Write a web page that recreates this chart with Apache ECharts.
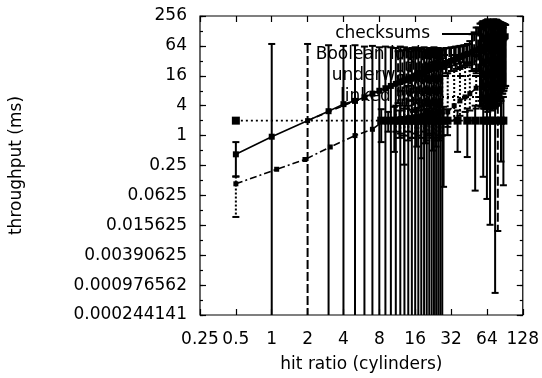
<!DOCTYPE html>
<html><head><meta charset="utf-8">
<script src="https://cdn.jsdelivr.net/npm/echarts@6/dist/echarts.min.js"></script>
<style>html,body{margin:0;padding:0;background:#fff}#c{width:542px;height:378px}</style>
</head><body><div id="c"></div>
<script>
// ---- tick labels ----
const xTickLabels = ['0.25','0.5','1','2','4','8','16','32','64','128'];
const yTickLabels = ['0.000244141','0.000976562','0.00390625','0.015625','0.0625','0.25','1','4','16','64','256'];
const seriesNames = ['checksums','Boolean logic','underwater','linked lists'];

// ---- checksums ----
const csX  = [0.5, 1, 3, 4, 5, 6, 7, 8, 9, 10, 11, 12, 13, 14, 15, 16, 17, 18, 19, 20, 21, 22, 23, 24, 25, 26, 27,
              29, 32, 35, 38, 41, 44, 48, 52, 56, 58, 60, 62, 64, 66, 68, 70, 72, 74, 76, 78, 80, 82, 84, 86, 88, 90, 92];
const csY  = [0.42, 0.95, 3.1, 4.3, 5, 5.9, 7, 8, 9, 10, 11, 12, 13, 14, 15, 16, 17, 18, 19, 20, 21, 22, 23, 24, 25, 26, 27,
              29, 32, 35, 38, 41, 44, 48, 52, 56, 58, 60, 62, 64, 66, 68, 70, 72, 74, 76, 78, 80, 82, 84, 86, 90, 95, 100];
const csHi = [0.74, 70, 66, 64, 66, 62, 64, 60, 62, 60, 58, 62, 60, 56, 58, 60, 56, 58, 60, 54, 58, 56, 60, 55, 58, 56, 54,
              58, 60, 62, 64, 66, 70, 110, 150, 180, 190, 200, 205, 210, 200, 190, 200, 205, 210, 215, 210, 200, 195, 190, 185, 180, 175, 170];
const csLo = [0.15, 1e-5, 1e-5, 1e-5, 1e-5, 1e-5, 1e-5, 1e-5, 1e-5, 1e-5, 1e-5, 1e-5, 1e-5, 1e-5, 1e-5, 1e-5, 1e-5, 1e-5, 1e-5, 1e-5, 1e-5, 1e-5, 1e-5, 1e-5, 1e-5, 1e-5, 1e-5,
              18, 20, 22, 24, 26, 28, 20, 18, 4, 3.8, 3.5, 3.6, 3.4, 3.8, 4, 3.5, 3.6, 3.8, 4, 4.2, 5, 5.5, 6, 7, 8, 9, 10];

// ---- Boolean logic ----
const blX  = [2, 11.5, 12.5, 13.5, 14.5, 15.5, 16.5, 17.5, 18.5, 19.5, 20.5, 21.5, 22.5, 23.5, 24.5, 25.5, 26.5,
              28, 31, 34, 37, 40, 43, 46, 50, 54, 57, 59, 61, 63, 65, 67, 69, 71, 73, 75, 77, 79, 81, 83, 85, 87, 89, 91];
const blY  = [2, 11.5, 12.5, 13.5, 14.5, 15.5, 16.5, 17.5, 18.5, 19.5, 20.5, 21.5, 22.5, 23.5, 24.5, 25.5, 26.5,
              28, 31, 34, 37, 40, 43, 46, 50, 54, 57, 59, 61, 63, 65, 67, 69, 71, 73, 75, 77, 79, 81, 83, 85, 88, 92, 96];
const blHi = [70, 50, 52, 54, 50, 56, 52, 55, 50, 54, 52, 50, 55, 52, 50, 54, 52,
              56, 58, 60, 62, 64, 66, 80, 120, 150, 180, 200, 190, 210, 220, 200, 190, 210, 220, 200, 215, 205, 195, 190, 185, 180, 175, 170];
const blLo = [1e-5, 4.5, 4, 3.5, 5, 3, 4.5, 3.2, 4, 2.8, 3.5, 3, 2.6, 3.4, 2.5, 3, 2.8,
              22, 24, 26, 28, 30, 28, 26, 22, 20, 5, 4, 3.5, 3.4, 3, 3.6, 4, 3.2, 3.5, 3.8, 4, 0.012, 4.5, 5, 6, 7, 8, 10];

// ---- underwater ----
const uwX  = [0.5, 1.1, 1.9, 3.1, 5, 7, 8.7, 11, 12, 13, 14, 15, 16, 17, 18, 19, 20, 21, 22, 23, 24, 25, 26, 27,
              30, 34, 38, 42, 46, 52, 58, 64, 70, 76, 82, 88];
const uwY  = [0.107, 0.21, 0.33, 0.59, 1.0, 1.34, 2.0, 2.1, 2.2, 2.2, 2.3, 2.3, 2.4, 2.4, 2.5, 2.5, 2.6, 2.6, 2.7, 2.8, 2.8, 2.9, 3, 3,
              3, 4, 5, 6, 7, 9, 12, 16, 20, 26, 32, 40];
const uwHi = [0.15, 0.21, 0.33, 0.59, 1.0, 1.34, 2.0, 4, 8, 12, 10, 16, 14, 20, 18, 24, 22, 26, 30, 28, 32, 30, 34, 36,
              18, 20, 22, 24, 30, 40, 60, 80, 100, 120, 140, 150];
const uwLo = [0.023, 0.21, 0.33, 0.59, 1.0, 1.34, 2.0, 1.2, 1.1, 1.0, 1.2, 0.9, 1.1, 1.0, 0.9, 1.2, 0.8, 1.0, 0.9, 1.1, 0.8, 1.0, 0.9, 1.0,
              1.5, 2, 2.5, 3, 3.2, 3.5, 4, 4.5, 5, 6, 8, 10];

// ---- linked lists ----
const llX  = [0.5, 8.3, 9.5, 10.7, 11.8, 12.9, 14, 15, 16.5, 18, 19.5, 21, 22.5, 24, 25.5, 27.7, 29.9, 36.3, 43.8, 51, 59.6, 64, 68, 75, 84, 88];
const llY  = [2, 2, 2, 2, 2, 2, 2, 2, 2, 2, 2, 2, 2, 2, 2, 2, 2, 2, 2, 2, 2, 2, 2, 2, 2, 2];
const llHi = [2, 3.4, 3, 3.8, 3.2, 3.5, 4, 3.3, 3.6, 3.8, 3.4, 3.2, 3.5, 4, 4.5, 3.8, 3.4, 3.2, 3.5, 4, 4.5, 4, 5, 4, 5, 6];
const llLo = [2, 0.74, 1.2, 0.47, 0.9, 0.26, 0.8, 0.9, 0.6, 0.35, 0.7, 1.1, 0.5, 0.6, 0.8, 0.093, 1.02, 0.47, 0.37, 0.078, 0.148, 0.053, 0.016, 0.00068, 0.3, 0.1];

const FONT = 'DejaVu Sans';
const FS = 17;
const LW = 1.6;
const BW = 2;

function zip2(a, b) { return a.map((v, i) => [v, b[i]]); }
function zip3(a, b, c) { return a.map((v, i) => [v, b[i], c[i]]); }

function barRender(dash) {
  return function (params, api) {
    const x = api.value(0), lo = api.value(1), hi = api.value(2);
    if (hi === lo) return null;
    const p1 = api.coord([x, hi]), p2 = api.coord([x, lo]);
    const w = 3.5;
    return {
      type: 'group',
      children: [
        { type: 'line', shape: { x1: p1[0], y1: p1[1], x2: p2[0], y2: p2[1] },
          style: { stroke: '#000', lineWidth: BW, lineDash: dash, fill: null } },
        { type: 'line', shape: { x1: p1[0] - w, y1: p1[1], x2: p1[0] + w, y2: p1[1] },
          style: { stroke: '#000', lineWidth: BW, fill: null } },
        { type: 'line', shape: { x1: p2[0] - w, y1: p2[1], x2: p2[0] + w, y2: p2[1] },
          style: { stroke: '#000', lineWidth: BW, fill: null } }
      ]
    };
  };
}

const defs = [
  { name: seriesNames[0], x: csX, y: csY, hi: csHi, lo: csLo, dash: 'solid', barDash: null, sym: 'rect', size: 6 },
  { name: seriesNames[1], x: blX, y: blY, hi: blHi, lo: blLo, dash: [6, 4], barDash: [9, 3], sym: 'rect', size: 5 },
  { name: seriesNames[2], x: uwX, y: uwY, hi: uwHi, lo: uwLo, dash: [7, 3, 2, 3], barDash: [2, 2], sym: 'rect', size: 5 },
  { name: seriesNames[3], x: llX, y: llY, hi: llHi, lo: llLo, dash: [2, 3], barDash: null, sym: 'rect', size: 8 }
];

const series = [];
defs.forEach(d => {
  series.push({
    type: 'custom', name: d.name + ' err', renderItem: barRender(d.barDash),
    data: zip3(d.x, d.lo, d.hi), encode: { x: 0, y: [1, 2] }, clip: true, z: 2,
    silent: true
  });
});
defs.forEach(d => {
  series.push({
    type: 'line', name: d.name, data: zip2(d.x, d.y), symbol: d.sym, symbolSize: d.size,
    showSymbol: true, itemStyle: { color: '#000' },
    lineStyle: { color: '#000', width: LW, type: d.dash }, z: 3, clip: true
  });
});

const axisTxt = { color: '#000', fontFamily: FONT, fontSize: FS };
const xMin = 0.25, xMax = 128, yMin = 0.000244140625, yMax = 256;

function xFmt(v) { return xTickLabels[Math.round(Math.log2(v)) + 2] || ''; }
function yFmt(v) { return yTickLabels[Math.round(Math.log(v) / Math.log(4)) + 6] || ''; }

const tickStyle = { color: '#000', width: 1.2 };
const baseX = { type: 'log', logBase: 2, min: xMin, max: xMax, interval: 1, splitNumber: 9, gridIndex: 0,
  axisLine: { show: false }, splitLine: { show: false } };
const baseY = { type: 'log', min: yMin, max: yMax, interval: 1, gridIndex: 0,
  axisLine: { show: false }, splitLine: { show: false } };

const option = {
  animation: false,
  backgroundColor: '#fff',
  textStyle: { fontFamily: FONT },
  grid: { left: 196, right: 19, top: 16, bottom: 61, show: true, borderColor: '#000', borderWidth: 1.2, containLabel: false },
  legend: {
    data: seriesNames, orient: 'vertical', right: 56, top: 19, align: 'right',
    itemWidth: 38, itemHeight: 14, itemGap: 1, z: 1,
    itemStyle: { opacity: 0 },
    textStyle: { color: '#000', fontFamily: FONT, fontSize: FS, lineHeight: 20, padding: [0, 7, 0, 0] },
    inactiveColor: '#000', selectedMode: false
  },
  xAxis: [
    Object.assign({}, baseX, { position: 'bottom',
      name: 'hit ratio (cylinders)', nameLocation: 'middle', nameGap: 41, nameTextStyle: axisTxt,
      axisTick: { inside: true, length: 6, lineStyle: tickStyle },
      axisLabel: Object.assign({ formatter: xFmt, margin: 16, showMinLabel: true, showMaxLabel: true }, axisTxt) }),
    Object.assign({}, baseX, { position: 'top',
      axisTick: { inside: true, length: 6, lineStyle: tickStyle },
      axisLabel: { show: false } })
  ],
  yAxis: [
    Object.assign({}, baseY, { logBase: 4, splitNumber: 10, position: 'left',
      name: 'throughput (ms)', nameLocation: 'middle', nameGap: 175, nameTextStyle: axisTxt,
      axisTick: { inside: true, length: 6, lineStyle: tickStyle },
      axisLabel: Object.assign({ formatter: yFmt, margin: 13, showMinLabel: true, showMaxLabel: true }, axisTxt) }),
    Object.assign({}, baseY, { logBase: 2, splitNumber: 20, position: 'left',
      axisTick: { inside: true, length: 3, lineStyle: tickStyle },
      axisLabel: { show: false } }),
    Object.assign({}, baseY, { logBase: 4, splitNumber: 10, position: 'right',
      axisTick: { inside: true, length: 6, lineStyle: tickStyle },
      axisLabel: { show: false } }),
    Object.assign({}, baseY, { logBase: 2, splitNumber: 20, position: 'right',
      axisTick: { inside: true, length: 3, lineStyle: tickStyle },
      axisLabel: { show: false } })
  ],
  series: series
};

const chart = echarts.init(document.getElementById('c'), null, { renderer: 'canvas' });
chart.setOption(option);
</script>
</body></html>
